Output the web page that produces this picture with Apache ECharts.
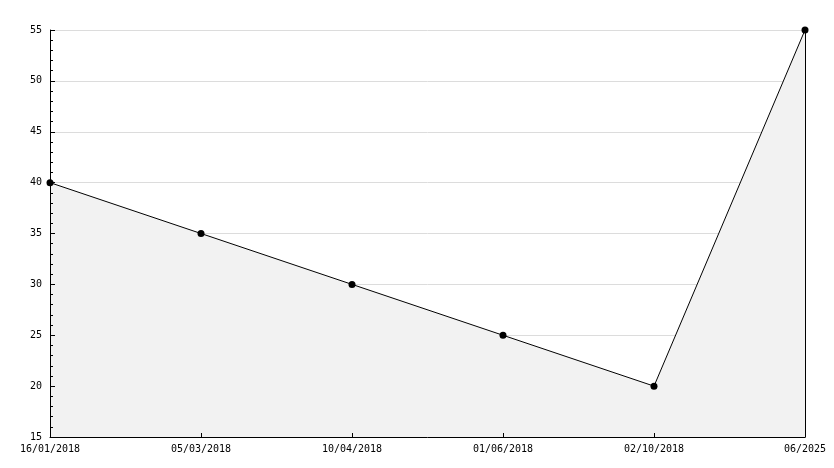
<!DOCTYPE html>
<html>
<head>
<meta charset="utf-8">
<script src="https://cdn.jsdelivr.net/npm/echarts@6/dist/echarts.min.js"></script>
<style>html,body{margin:0;padding:0;background:#fff}#c{width:834px;height:468px}</style>
</head>
<body>
<div id="c"></div>
<script>
var categories = ['16/01/2018', '05/03/2018', '10/04/2018', '01/06/2018', '02/10/2018', '06/2025'];
var values = [40, 35, 30, 25, 20, 55];
var yTicks = [15, 20, 25, 30, 35, 40, 45, 50, 55];

var font = 'DejaVu Sans Mono';
var yMin = yTicks[0], yMax = yTicks[yTicks.length - 1];
var chart = echarts.init(document.getElementById('c'), null, {renderer: 'canvas'});
chart.setOption({
  animation: false,
  backgroundColor: '#fff',
  grid: {left: 50, right: 29, top: 30, bottom: 31, containLabel: false},
  xAxis: {
    type: 'category',
    data: categories,
    boundaryGap: false,
    z: 5,
    axisLine: {show: true, lineStyle: {color: '#000', width: 1}},
    axisTick: {show: true, inside: true, length: 4, lineStyle: {color: '#000'}},
    axisLabel: {color: '#000', fontFamily: font, fontSize: 10, margin: 7, interval: 0},
    splitLine: {show: false}
  },
  yAxis: [{
    // gridlines only, drawn beneath the area
    type: 'value',
    min: yMin, max: yMax, interval: 5,
    z: 0,
    axisLine: {show: false},
    axisTick: {show: false},
    axisLabel: {show: false},
    splitLine: {show: true, lineStyle: {color: '#dcdcdc', width: 1}}
  }, {
    // visible left axis, drawn above the area
    type: 'value',
    position: 'left',
    min: yMin, max: yMax, interval: 5,
    z: 5,
    axisLine: {show: true, lineStyle: {color: '#000', width: 1}},
    axisTick: {show: true, inside: true, length: 5, lineStyle: {color: '#000'}},
    minorTick: {show: true, splitNumber: 5, length: 3, lineStyle: {color: '#000'}},
    axisLabel: {color: '#000', fontFamily: font, fontSize: 10, margin: 8},
    splitLine: {show: false}
  }, {
    type: 'value',
    position: 'right',
    min: yMin, max: yMax, interval: 5,
    z: 5,
    axisLine: {show: true, lineStyle: {color: '#000', width: 1}},
    axisTick: {show: false},
    axisLabel: {show: false},
    splitLine: {show: false}
  }],
  series: [{
    type: 'line',
    yAxisIndex: 0,
    data: values,
    symbol: 'circle',
    symbolSize: 7,
    z: 2,
    itemStyle: {color: '#000'},
    lineStyle: {color: '#000', width: 1},
    areaStyle: {color: '#f2f2f2', opacity: 1}
  }]
});
</script>
</body>
</html>
